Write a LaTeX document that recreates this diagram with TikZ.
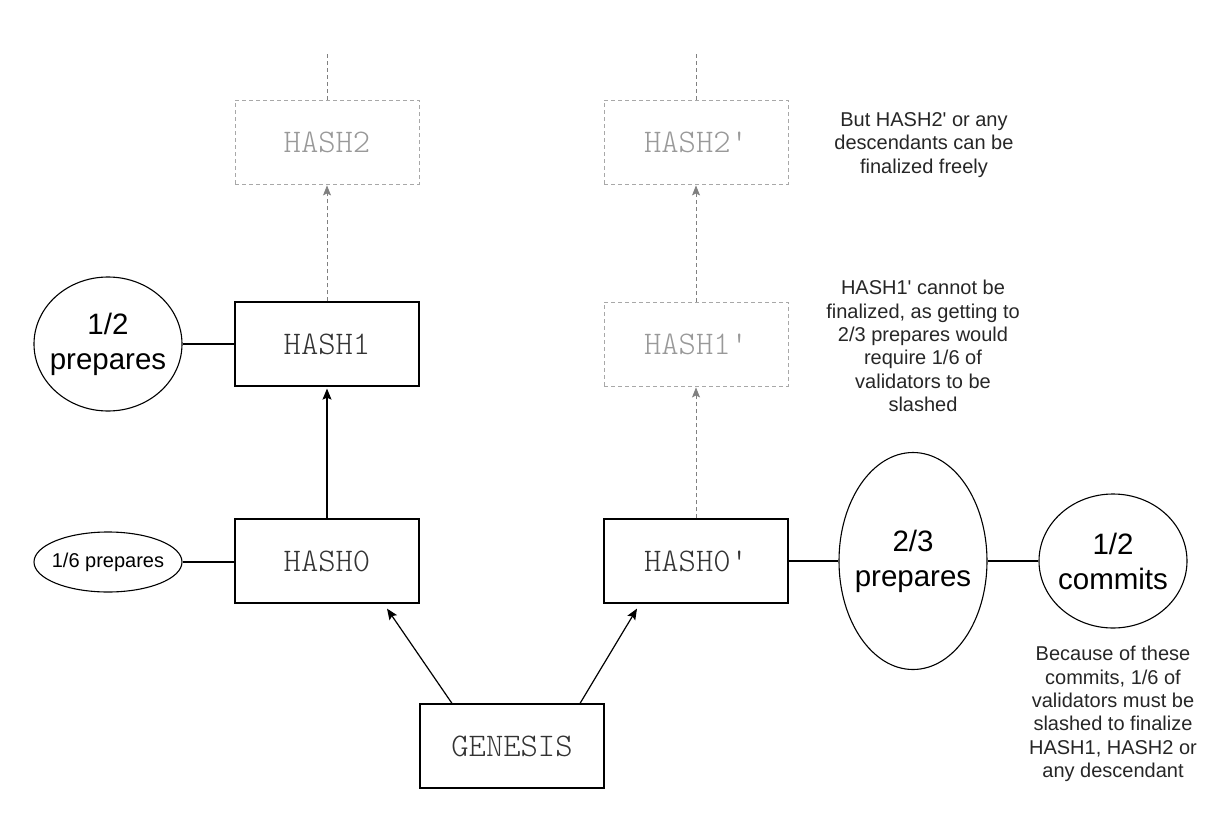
\documentclass[tikz,border=0pt]{standalone}
\usepackage{fontspec}
\setmainfont{Liberation Sans}[Ligatures=TeXOff]
\newfontfamily\monof{lmmonolt10-regular.otf}[Ligatures=TeXOff]
\usetikzlibrary{arrows.meta,shapes.geometric}
\definecolor{ghostline}{HTML}{A8A8A8}
\definecolor{ghosttext}{HTML}{999999}
\definecolor{arrgray}{HTML}{808080}
\definecolor{notetext}{HTML}{262626}
\definecolor{hashtext}{HTML}{333333}
\begin{document}
\begin{tikzpicture}[x=1pt,y=-1pt,
  hashbox/.style={draw, line width=1.2pt, minimum width=184pt, minimum height=84pt, inner sep=0pt,
    text=hashtext, font=\monof\fontsize{33}{38}\selectfont},
  ghostbox/.style={draw=ghostline, dash pattern=on 4pt off 3pt, line width=0.9pt, minimum width=184pt,
    minimum height=84pt, inner sep=0pt, text=ghosttext, font=\monof\fontsize{33}{38}\selectfont},
  vote/.style={ellipse, draw, line width=1.1pt, inner sep=0pt},
  bigtxt/.style={align=center, inner sep=0pt, font=\fontsize{29.5}{35}\selectfont},
  smalltxt/.style={inner sep=0pt, font=\fontsize{20}{24}\selectfont},
  note/.style={align=center, inner sep=0pt, text=notetext, font=\fontsize{20}{23.4}\selectfont},
  link/.style={line width=1.2pt},
  solidarrow/.style={line width=1.2pt, -{Stealth[length=11pt,width=9pt,inset=2pt]}},
  ghostarrow/.style={draw=arrgray, dash pattern=on 4pt off 3pt, line width=0.9pt,
    -{Stealth[length=10pt,width=8pt,inset=2pt]}},
  ghostlink/.style={draw=arrgray, dash pattern=on 4pt off 3pt, line width=0.9pt}]
\useasboundingbox (0,0) rectangle (1216,819);

% blocks
\node[hashbox] (gen) at (512,746) {GENESIS};
\node[hashbox] (h0) at (327,561) {HASH0};
\node[hashbox] (h1) at (327,344) {HASH1};
\node[ghostbox] (h2) at (327,142) {HASH2};
\node[hashbox] (h0p) at (696,561) {HASH0'};
\node[ghostbox] (h1p) at (696,344) {HASH1'};
\node[ghostbox] (h2p) at (696,142) {HASH2'};

% vote ellipses
\node[vote, minimum width=148pt, minimum height=134pt] (halfp) at (108,344) {};
\node[bigtxt] (halfpt) at (halfp.center) {1/2\\prepares};
\node[vote, minimum width=148pt, minimum height=60pt] (sixth) at (108,562) {};
\node[smalltxt] (sixtht) at (sixth.center) {1/6 prepares};
\node[vote, minimum width=148pt, minimum height=217pt] (twoth) at (913,561) {};
\node[bigtxt] (twotht) at (twoth.center) {2/3\\prepares};
\node[vote, minimum width=148pt, minimum height=134pt] (commit) at (1113,561) {};
\node[bigtxt] (committ) at (commit.center) {1/2\\commits};

% notes
\node[note] (n2) at (924,145) {But HASH2' or any\\descendants can be\\finalized freely};
\node[note] (n1) at (923,346) {HASH1' cannot be\\finalized, as getting to\\2/3 prepares would\\require 1/6 of\\validators to be\\slashed};
\node[note] (n3) at (1113,714) {Because of these\\commits, 1/6 of\\validators must be\\slashed to finalize\\HASH1, HASH2 or\\any descendant};

% top dangling ends
\coordinate (t2) at (327,54);
\coordinate (t2p) at (696,54);

% connectors
\draw[link] (halfp.east) -- (h1.west);
\draw[link] (sixth.east) -- (sixth.east -| h0.west);
\draw[link] (h0p.east) -- (twoth.west);
\draw[link] (twoth.east) -- (commit.west);

\draw[solidarrow, shorten >=2pt] (h0.north) -- (h1.south);
\draw[solidarrow] ([xshift=-60pt]gen.north) -- ([xshift=60pt,yshift=-5pt]h0.south);
\draw[solidarrow] ([xshift=68pt]gen.north) -- ([xshift=-59pt,yshift=-5pt]h0p.south);

\draw[ghostarrow, shorten >=1pt] (h1.north) -- (h2.south);
\draw[ghostarrow, shorten >=1pt] (h0p.north) -- (h1p.south);
\draw[ghostarrow, shorten >=1pt] (h1p.north) -- (h2p.south);
\draw[ghostlink] (h2.north) -- (t2);
\draw[ghostlink] (h2p.north) -- (t2p);
\end{tikzpicture}
\end{document}
